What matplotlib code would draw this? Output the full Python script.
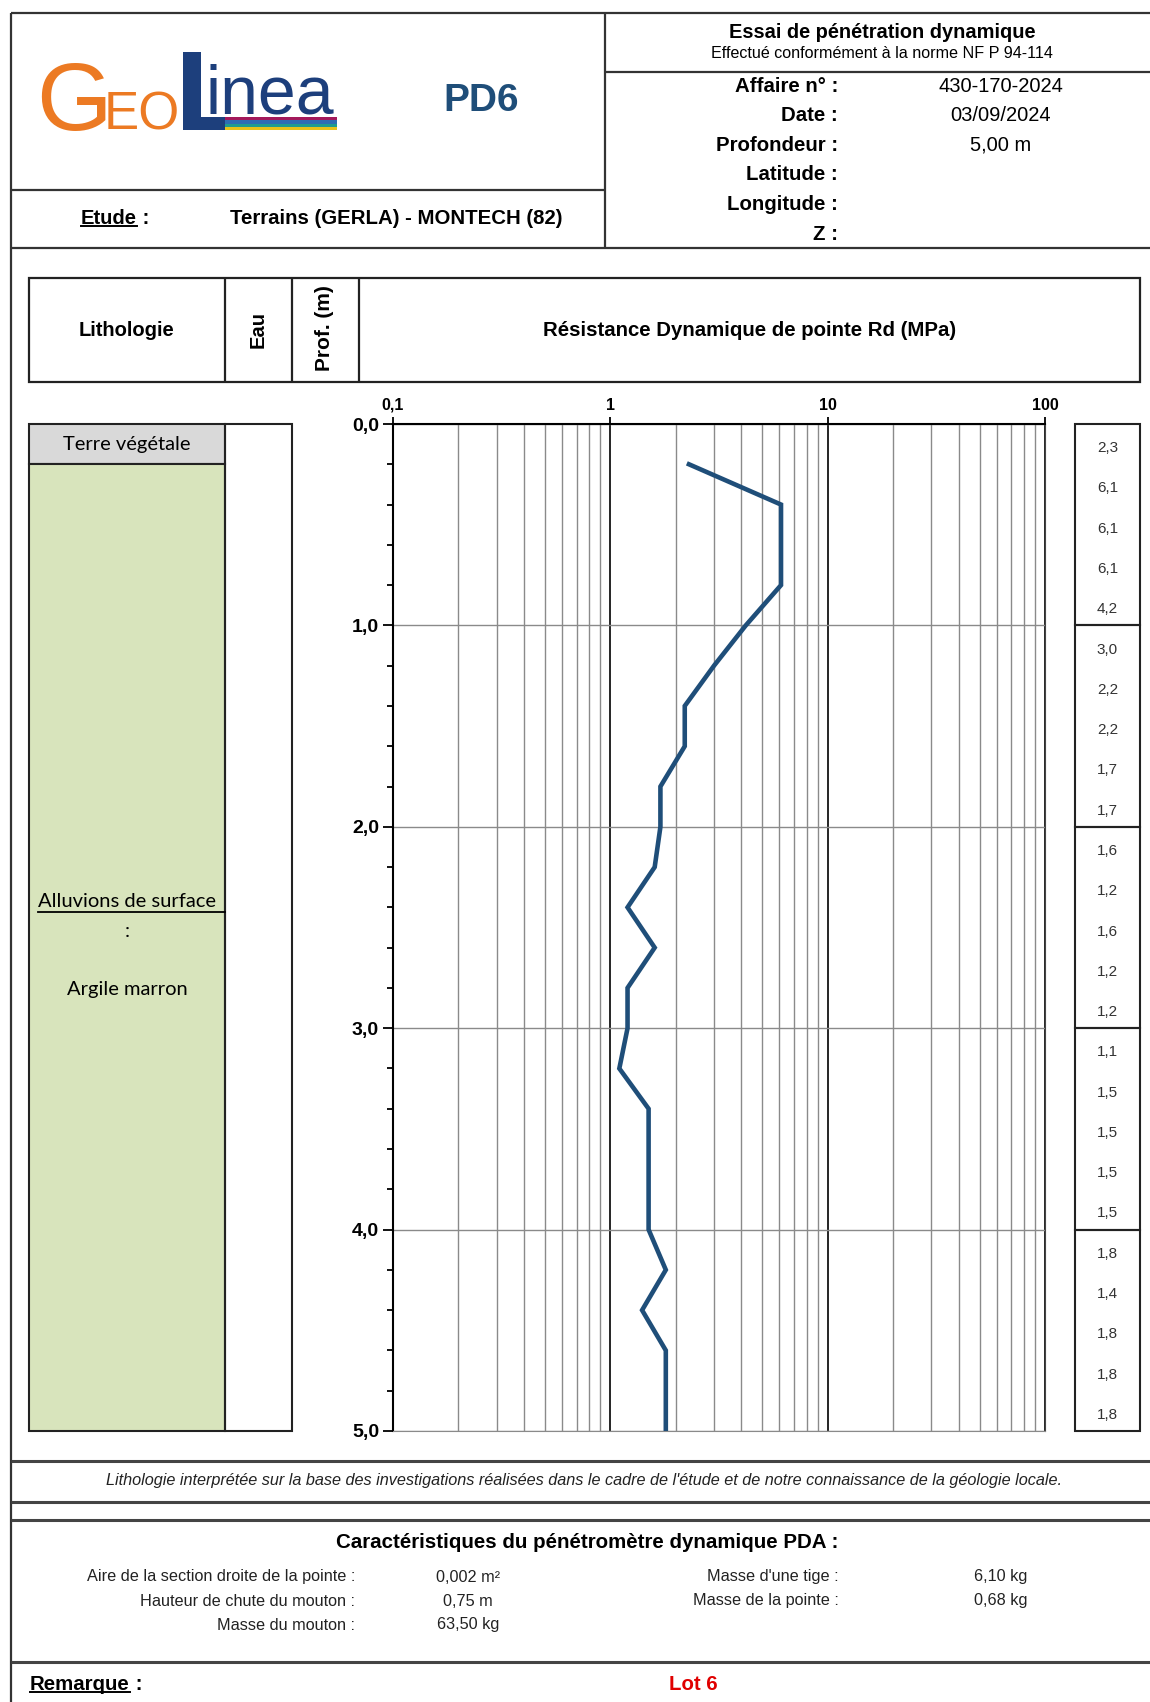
import numpy as np
import matplotlib.pyplot as plt
from matplotlib.patches import Rectangle
from matplotlib.ticker import FixedLocator, FuncFormatter, NullFormatter

plt.rcParams['font.family'] = ['Liberation Sans', 'DejaVu Sans']

# ---- data read from the sheet ----
depth = [0.2, 0.4, 0.6, 0.8, 1.0, 1.2, 1.4, 1.6, 1.8, 2.0, 2.2, 2.4, 2.6,
         2.8, 3.0, 3.2, 3.4, 3.6, 3.8, 4.0, 4.2, 4.4, 4.6, 4.8, 5.0]
rd = [2.3, 6.1, 6.1, 6.1, 4.2, 3.0, 2.2, 2.2, 1.7, 1.7, 1.6, 1.2, 1.6,
      1.2, 1.2, 1.1, 1.5, 1.5, 1.5, 1.5, 1.8, 1.4, 1.8, 1.8, 1.8]

layer_top = [0.0, 0.2]
layer_bot = [0.2, 5.0]
layer_title = ["Terre végétale", "Alluvions de surface"]
layer_desc = ["", "Argile marron"]
layer_color = ["#d9d9d9", "#d8e4bc"]

x_ticks = [0.1, 1, 10, 100]
x_ticklabels = ["0,1", "1", "10", "100"]
depth_ticks = [0, 1, 2, 3, 4, 5]

header_labels = ["Affaire n° :", "Date :", "Profondeur :", "Latitude :", "Longitude :", "Z :"]
header_values = ["430-170-2024", "03/09/2024", "5,00 m", "", "", ""]

pda_left_labels = ["Aire de la section droite de la pointe :", "Hauteur de chute du mouton :", "Masse du mouton :"]
pda_left_values = ["0,002 m²", "0,75 m", "63,50 kg"]
pda_right_labels = ["Masse d'une tige :", "Masse de la pointe :"]
pda_right_values = ["6,10 kg", "0,68 kg"]

W, H = 1150, 1702
fig = plt.figure(figsize=(W / 100, H / 100), dpi=100)
bg = fig.add_axes([0, 0, 1, 1])
bg.set_xlim(0, W)
bg.set_ylim(H, 0)
bg.axis('off')


def rect(x0, y0, x1, y1):
    return [x0 / W, 1 - y1 / H, (x1 - x0) / W, (y1 - y0) / H]


def hline(y, x0=11, x1=W, lw=1.6, c='#333333'):
    bg.plot([x0, x1], [y, y], color=c, lw=lw, solid_capstyle='butt')


def vline(x, y0, y1, lw=1.6, c='#333333'):
    bg.plot([x, x], [y0, y1], color=c, lw=lw, solid_capstyle='butt')


# ---- frame ----
vline(11, 13, H)
hline(13)
hline(248)
vline(605, 13, 248)
hline(190, 11, 605)
hline(72, 605, W)
for y in [1461, 1502, 1520, 1662]:
    hline(y, lw=2.2, c='#444444')

# column header box
bg.add_patch(Rectangle((29, 278), 1111, 104, fill=False, lw=1.6, ec='#222222'))
for x in [225, 292, 359]:
    vline(x, 278, 382, c='#222222')

# ---- logo ----
orange = '#ec7a23'
navy = '#1d3f7c'
bg.text(36, 130, "G", color=orange, fontsize=70, ha='left', va='baseline')
bg.text(104, 130, "EO", color=orange, fontsize=38, ha='left', va='baseline')
bg.add_patch(Rectangle((183, 52), 18, 78, color=navy, lw=0))
bg.add_patch(Rectangle((183, 117), 42, 13, color=navy, lw=0))
for i, c in enumerate(['#a3195b', '#2e6db4', '#1f9c8f', '#e8c21a']):
    bg.add_patch(Rectangle((225, 117 + i * 3.3), 112, 3.3, color=c, lw=0))
bg.text(206, 113, "inea", color=navy, fontsize=49, ha='left', va='baseline')
bg.text(481, 101, "PD6", color='#1f4e79', fontsize=28, weight='bold', ha='center', va='center')

r = fig.canvas.get_renderer()


def underline(t, on, lw=1.4, pad=0, x_end=None):
    bb = t.get_window_extent(renderer=r)
    inv = on.transData.inverted()
    (a, b), (c, d) = inv.transform([[bb.x0, bb.y0], [bb.x1, bb.y0]])
    if x_end is not None:
        c = x_end
    on.plot([a, c], [b + pad, d + pad], color=t.get_color(), lw=lw, clip_on=False, zorder=6)


t = bg.text(81, 218, "Etude", fontsize=14.5, weight='bold', ha='left', va='center')
underline(t, bg, pad=-2)
bg.text(t.get_window_extent(renderer=r).x1, 218, " :", fontsize=14.5, weight='bold', ha='left', va='center')
bg.text(396, 218, "Terrains (GERLA) - MONTECH (82)", fontsize=14.7, weight='bold', ha='center', va='center')

bg.text(882, 32, "Essai de pénétration dynamique", fontsize=14.4, weight='bold', ha='center', va='center')
bg.text(882, 54, "Effectué conformément à la norme NF P 94-114", fontsize=11.6, ha='center', va='center')
for i, (lab, val) in enumerate(zip(header_labels, header_values)):
    y = 86 + i * 29.6
    bg.text(838, y, lab, fontsize=14.7, weight='bold', ha='right', va='center')
    if val:
        bg.text(1001, y, val, fontsize=14.5, ha='center', va='center')

# column headers
bg.text(127, 330, "Lithologie", fontsize=14.5, weight='bold', ha='center', va='center')
bg.text(258, 330, "Eau", fontsize=14.5, weight='bold', ha='center', va='center', rotation=90)
bg.text(325, 328, "Prof. (m)", fontsize=15, weight='bold', ha='center', va='center', rotation=90)
bg.text(750, 330, "Résistance Dynamique de pointe Rd (MPa)", fontsize=14.7, weight='bold',
        ha='center', va='center')

# ---- main log plot ----
ax = fig.add_axes(rect(393, 424, 1045, 1431))
ax.set_xscale('log')
ax.set_xlim(0.1, 100)
ax.set_ylim(5, 0)
ax.plot(rd, depth, color='#1f4e79', lw=3.3, solid_joinstyle='miter', zorder=5)

ax.xaxis.set_major_locator(FixedLocator(x_ticks))
ax.xaxis.set_major_formatter(FuncFormatter(lambda v, p: x_ticklabels[x_ticks.index(v)] if v in x_ticks else ""))
ax.xaxis.set_minor_formatter(NullFormatter())
ax.xaxis.tick_top()
ax.tick_params(axis='x', which='major', direction='out', length=5, width=1.3, pad=3, labelsize=11.5)
ax.tick_params(axis='x', which='minor', length=0)
ax.grid(True, axis='x', which='minor', color='#8a8a8a', lw=1.0)
ax.grid(True, axis='x', which='major', color='#000000', lw=1.2)

ax.yaxis.set_major_locator(FixedLocator(depth_ticks))
ax.yaxis.set_minor_locator(FixedLocator(depth))
ax.yaxis.set_major_formatter(FuncFormatter(lambda v, p: f"{v:.1f}".replace('.', ',')))
ax.tick_params(axis='y', which='major', direction='out', length=7, width=1.3, pad=3, labelsize=14)
ax.tick_params(axis='y', which='minor', direction='out', length=4, width=1.3)
ax.grid(True, axis='y', which='major', color='#8a8a8a', lw=1.0)
for lab in ax.get_xticklabels() + ax.get_yticklabels():
    lab.set_fontweight('bold')
ax.spines['left'].set_linewidth(1.5)
ax.spines['top'].set_linewidth(1.5)
ax.spines['right'].set_color('#444444')
ax.spines['bottom'].set_color('#8a8a8a')
ax.set_axisbelow(True)

# ---- lithology column ----
lax = fig.add_axes(rect(29, 424, 292, 1431))
lax.set_xlim(0, 1)
lax.set_ylim(5, 0)
lax.axis('off')
split = 196 / 263
lato = ['Lato', 'DejaVu Sans']
for top, bot, title, desc, col in zip(layer_top, layer_bot, layer_title, layer_desc, layer_color):
    lax.add_patch(Rectangle((0, top), split, bot - top, fc=col, ec='#222222', lw=1.5, clip_on=False))
    mid = (top + bot) / 2
    if desc:
        tt = lax.text(split / 2, mid - 0.23, title, fontsize=14.5, family=lato, ha='center', va='center')
        underline(tt, lax, lw=1.3, pad=0.012, x_end=split)
        lax.text(split / 2, mid - 0.08, ":", fontsize=14.5, family=lato, ha='center', va='center')
        lax.text(split / 2, mid + 0.21, desc, fontsize=14.5, family=lato, ha='center', va='center')
    else:
        lax.text(split / 2, mid, title, fontsize=14.5, family=lato, ha='center', va='center')
lax.add_patch(Rectangle((split, 0), 1 - split, 5, fill=False, ec='#222222', lw=1.5, clip_on=False))

# ---- values column ----
vax = fig.add_axes(rect(1075, 424, 1140, 1431))
vax.set_xlim(0, 1)
vax.set_ylim(5, 0)
vax.axis('off')
for m in range(5):
    vax.add_patch(Rectangle((0, m), 1, 1, fill=False, ec='#222222', lw=1.5, clip_on=False))
for d, v in zip(depth, rd):
    vax.text(0.5, d - 0.08, f"{v:.1f}".replace('.', ','), fontsize=11, color='#333333',
             ha='center', va='center')

# ---- footer ----
bg.text(584, 1480, "Lithologie interprétée sur la base des investigations réalisées dans le cadre de l'étude "
        "et de notre connaissance de la géologie locale.", fontsize=11.7, style='italic',
        ha='center', va='center', color='#222222')
bg.text(587, 1543, "Caractéristiques du pénétromètre dynamique PDA :", fontsize=14.8, weight='bold',
        ha='center', va='center')
for i, (lab, val) in enumerate(zip(pda_left_labels, pda_left_values)):
    y = 1577 + i * 24
    bg.text(355, y, lab, fontsize=11.7, ha='right', va='center', color='#222222')
    bg.text(468, y, val, fontsize=11.7, ha='center', va='center', color='#222222')
for i, (lab, val) in enumerate(zip(pda_right_labels, pda_right_values)):
    y = 1577 + i * 24
    bg.text(839, y, lab, fontsize=11.7, ha='right', va='center', color='#222222')
    bg.text(1001, y, val, fontsize=11.7, ha='center', va='center', color='#222222')

t = bg.text(30, 1684, "Remarque", fontsize=14.7, weight='bold', ha='left', va='center')
underline(t, bg, pad=-2)
bg.text(t.get_window_extent(renderer=r).x1, 1684, " :", fontsize=14.7, weight='bold', ha='left', va='center')
bg.text(693, 1684, "Lot 6", fontsize=14.7, weight='bold', color='#e00000', ha='center', va='center')

fig.savefig('out.png', dpi=100, facecolor='white')
